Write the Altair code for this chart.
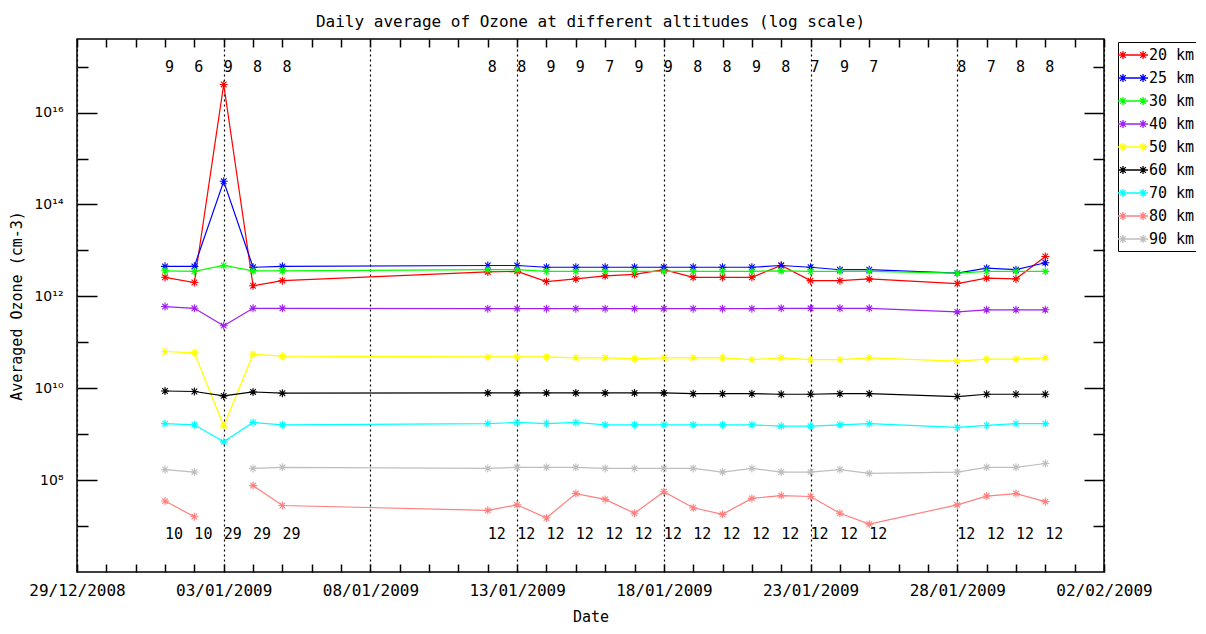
import math
import altair as alt
import pandas as pd

# ---------------- data ----------------
x_start = "2008-12-29"
x_end = "2009-02-02"

dates = [
    "2009-01-01", "2009-01-02", "2009-01-03", "2009-01-04", "2009-01-05",
    "2009-01-12", "2009-01-13", "2009-01-14", "2009-01-15", "2009-01-16",
    "2009-01-17", "2009-01-18", "2009-01-19", "2009-01-20", "2009-01-21",
    "2009-01-22", "2009-01-23", "2009-01-24", "2009-01-25",
    "2009-01-28", "2009-01-29", "2009-01-30", "2009-01-31",
]

altitudes = ["20 km", "25 km", "30 km", "40 km", "50 km", "60 km", "70 km", "80 km", "90 km"]
colors = ["#ff0000", "#0000ff", "#00ff00", "#a020f0", "#ffff00", "#000000", "#00ffff", "#ff7f7f", "#bebebe"]

ozone_20km = [2.6e12, 2.0e12, 4.1e16, 1.7e12, 2.2e12,
              3.4e12, 3.5e12, 2.1e12, 2.4e12, 2.8e12, 3.0e12, 3.8e12, 2.6e12, 2.6e12, 2.6e12,
              4.7e12, 2.2e12, 2.2e12, 2.4e12,
              1.9e12, 2.5e12, 2.4e12, 7.4e12]
ozone_25km = [4.5e12, 4.5e12, 3.2e14, 4.3e12, 4.5e12,
              4.7e12, 4.7e12, 4.3e12, 4.3e12, 4.3e12, 4.3e12, 4.3e12, 4.3e12, 4.3e12, 4.3e12,
              4.7e12, 4.3e12, 3.8e12, 3.8e12,
              3.2e12, 4.1e12, 3.8e12, 5.4e12]
ozone_30km = [3.6e12, 3.5e12, 4.7e12, 3.6e12, 3.6e12,
              3.8e12, 3.8e12, 3.5e12, 3.5e12, 3.5e12, 3.5e12, 3.5e12, 3.5e12, 3.5e12, 3.5e12,
              3.6e12, 3.5e12, 3.5e12, 3.5e12,
              3.2e12, 3.5e12, 3.5e12, 3.5e12]
ozone_40km = [6.0e11, 5.5e11, 2.3e11, 5.5e11, 5.5e11,
              5.4e11, 5.4e11, 5.4e11, 5.4e11, 5.4e11, 5.4e11, 5.4e11, 5.4e11, 5.4e11, 5.4e11,
              5.5e11, 5.5e11, 5.5e11, 5.5e11,
              4.6e11, 5.1e11, 5.1e11, 5.1e11]
ozone_50km = [6.3e10, 5.9e10, 1.5e9, 5.5e10, 5.0e10,
              4.8e10, 4.8e10, 4.8e10, 4.6e10, 4.6e10, 4.4e10, 4.6e10, 4.6e10, 4.6e10, 4.2e10,
              4.6e10, 4.2e10, 4.2e10, 4.6e10,
              3.9e10, 4.3e10, 4.3e10, 4.6e10]
ozone_60km = [8.7e9, 8.5e9, 6.8e9, 8.3e9, 7.8e9,
              7.9e9, 7.9e9, 7.9e9, 7.9e9, 7.9e9, 7.9e9, 7.9e9, 7.6e9, 7.6e9, 7.6e9,
              7.4e9, 7.4e9, 7.6e9, 7.6e9,
              6.6e9, 7.4e9, 7.4e9, 7.4e9]
ozone_70km = [1.7e9, 1.6e9, 6.8e8, 1.8e9, 1.6e9,
              1.7e9, 1.8e9, 1.7e9, 1.8e9, 1.6e9, 1.6e9, 1.6e9, 1.6e9, 1.6e9, 1.6e9,
              1.5e9, 1.5e9, 1.6e9, 1.7e9,
              1.4e9, 1.55e9, 1.7e9, 1.7e9]
ozone_80km = [3.5e7, 1.6e7, None, 7.6e7, 2.8e7,
              2.2e7, 2.9e7, 1.5e7, 5.1e7, 3.8e7, 1.9e7, 5.6e7, 2.5e7, 1.8e7, 4.0e7,
              4.6e7, 4.4e7, 1.9e7, 1.1e7,
              2.9e7, 4.5e7, 5.1e7, 3.4e7]
ozone_90km = [1.7e8, 1.5e8, None, 1.8e8, 1.9e8,
              1.8e8, 1.9e8, 1.9e8, 1.9e8, 1.8e8, 1.8e8, 1.8e8, 1.8e8, 1.5e8, 1.8e8,
              1.5e8, 1.5e8, 1.7e8, 1.4e8,
              1.5e8, 1.9e8, 1.9e8, 2.3e8]

upper_counts = [9, 6, 9, 8, 8,
                8, 8, 9, 9, 7, 9, 9, 8, 8, 9, 8, 7, 9, 7,
                8, 7, 8, 8]
lower_counts = [10, 10, 29, 29, 29,
                12, 12, 12, 12, 12, 12, 12, 12, 12, 12, 12, 12, 12, 12,
                12, 12, 12, 12]

x_major_ticks = [0, 5, 10, 15, 20, 25, 30, 35]
x_minor_ticks = list(range(0, 36))
y_major_ticks = [1e8, 1e10, 1e12, 1e14, 1e16]
y_minor_ticks = [1e7, 1e9, 1e11, 1e13, 1e15, 1e17]
y_domain = [1e6, 4e17]

# level at which the count rows are written (data units)
upper_row_level = 1e17
lower_row_level = 6.6e6

# ---------------- frames ----------------
series = [ozone_20km, ozone_25km, ozone_30km, ozone_40km, ozone_50km,
          ozone_60km, ozone_70km, ozone_80km, ozone_90km]
day = (pd.to_datetime(dates) - pd.Timestamp(x_start)).days.tolist()
n_days = (pd.Timestamp(x_end) - pd.Timestamp(x_start)).days

rows = []
for name, vals in zip(altitudes, series):
    seg = 0
    for d, v in zip(day, vals):
        if v is None:
            seg += 1
            continue
        rows.append({"alt": name, "day": d, "value": v, "seg": seg})
df = pd.DataFrame(rows)

counts = pd.DataFrame({
    "day": day,
    "n_up": [str(c) for c in upper_counts],
    "n_lo": [str(c) for c in lower_counts],
    "y_up": upper_row_level,
    "y_lo": lower_row_level,
})

# ---------------- styling ----------------
MONO = "DejaVu Sans Mono"
STAR = "M-1,0L1,0M0,-1L0,1M-0.7,-0.7L0.7,0.7M-0.7,0.7L0.7,-0.7"
c = 0.67 * 1.875
r = 0.27 * 1.875
LEG = (f"M-1.875,0L1.875,0"
       f"M{-c},{-r}L{-c},{r}M{-c-0.7*r},{-0.7*r}L{-c+0.7*r},{0.7*r}M{-c-0.7*r},{0.7*r}L{-c+0.7*r},{-0.7*r}"
       f"M{c},{-r}L{c},{r}M{c-0.7*r},{-0.7*r}L{c+0.7*r},{0.7*r}M{c-0.7*r},{0.7*r}L{c+0.7*r},{-0.7*r}"
       f"M{-c-r},0L{-c+r},0M{c-r},0L{c+r},0")

sup = str.maketrans("0123456789", "⁰¹²³⁴⁵⁶⁷⁸⁹")
y_label_expr = " : ".join(
    f"round(log(datum.value)/LN10) == {int(round(math.log10(v)))} ? '10{str(int(round(math.log10(v)))).translate(sup)}'"
    for v in y_major_ticks) + " : ''"
x_label_expr = "timeFormat(datetime(2008, 11, 29 + datum.value), '%d/%m/%Y')"

xscale = alt.Scale(domain=[0, n_days], nice=False, zero=False)
yscale = alt.Scale(type="log", domain=y_domain, nice=False)
color_scale = alt.Scale(domain=altitudes, range=colors)

legend = alt.Legend(
    title=None, orient="none", legendX=1041, legendY=3,
    symbolType=LEG, symbolSize=256, symbolStrokeWidth=1.3,
    symbolFillColor="transparent", symbolOffset=2,
    labelFont=MONO, labelFontSize=15, labelColor="black", labelOffset=7,
    rowPadding=6, padding=4, strokeColor="black", fillColor="white",
)

ax_x_main = alt.Axis(orient="bottom", values=x_major_ticks, labelExpr=x_label_expr,
                     grid=True, gridDash=[2, 3], gridColor="black", gridWidth=1.2, gridOpacity=1,
                     ticks=False, labelPadding=10, title="Date", titlePadding=11,
                     titleFontSize=15, labelFlush=False)
ax_x_minor_b = alt.Axis(orient="bottom", values=x_minor_ticks, labels=False, grid=False,
                        tickSize=8, offset=-8, title=None)
ax_x_minor_t = alt.Axis(orient="top", values=x_minor_ticks, labels=False, grid=False,
                        tickSize=8, offset=-8, title=None)
ax_y_major_l = alt.Axis(orient="left", values=y_major_ticks, labelExpr=y_label_expr,
                        tickSize=20, offset=-20, labelPadding=14, grid=False,
                        labelFont="DejaVu Sans", labelFontSize=14,
                        title="Averaged Ozone (cm-3)", titlePadding=9, titleFontSize=15)
ax_y_minor_l = alt.Axis(orient="left", values=y_minor_ticks, labels=False, grid=False,
                        tickSize=11, offset=-11, title=None)
ax_y_major_r = alt.Axis(orient="right", values=y_major_ticks, labels=False, grid=False,
                        tickSize=20, offset=-20, title=None)
ax_y_minor_r = alt.Axis(orient="right", values=y_minor_ticks, labels=False, grid=False,
                        tickSize=11, offset=-11, title=None)

base = alt.Chart(df)
lines = base.mark_line(strokeWidth=1.2).encode(
    x=alt.X("day:Q", scale=xscale, axis=ax_x_main),
    y=alt.Y("value:Q", scale=yscale, axis=ax_y_major_l),
    color=alt.Color("alt:N", scale=color_scale, legend=legend),
    detail="seg:N",
    order="day:Q",
)
points = base.mark_point(shape=STAR, size=64, filled=False, strokeWidth=1.1, opacity=1).encode(
    x=alt.X("day:Q", scale=xscale, axis=ax_x_minor_b),
    y=alt.Y("value:Q", scale=yscale, axis=ax_y_minor_l),
    color=alt.Color("alt:N", scale=color_scale, legend=legend),
)
upper = alt.Chart(counts).mark_text(align="left", baseline="middle", font=MONO, fontSize=15, color="black").encode(
    x=alt.X("day:Q", scale=xscale, axis=ax_x_minor_t),
    y=alt.Y("y_up:Q", scale=yscale, axis=ax_y_major_r),
    text="n_up:N",
)
lower = alt.Chart(counts).mark_text(align="left", baseline="middle", font=MONO, fontSize=15, color="black").encode(
    x=alt.X("day:Q", scale=xscale, axis=None),
    y=alt.Y("y_lo:Q", scale=yscale, axis=ax_y_minor_r),
    text="n_lo:N",
)

chart = alt.layer(lines, points, upper, lower).resolve_axis(
    x="independent", y="independent"
).properties(
    width=1027, height=533,
    title=alt.TitleParams("Daily average of Ozone at different altitudes (log scale)",
                          font=MONO, fontSize=16, fontWeight="normal", color="black",
                          anchor="middle", offset=8),
    autosize=alt.AutoSizeParams(type="none"),
    padding={"left": 69, "top": 31, "right": 92, "bottom": 54},
    background="white",
).configure_view(
    stroke="black", strokeWidth=1.5
).configure_axis(
    labelFont=MONO, labelFontSize=16, labelColor="black",
    titleFont=MONO, titleFontWeight="normal", titleColor="black",
    tickColor="black", tickWidth=1.5, domain=False,
)

chart.save("out.html", embed_options={"renderer": "svg", "actions": False})
